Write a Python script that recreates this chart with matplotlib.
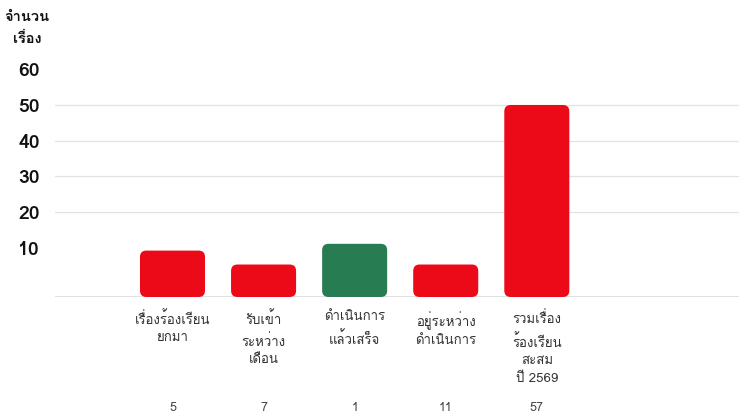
import matplotlib
matplotlib.use('Agg')
import matplotlib.pyplot as plt
from matplotlib import font_manager
from matplotlib.patches import FancyBboxPatch
from matplotlib.ft2font import FT2Font

categories = ['เรื่องร้องเรียน\nยกมา', 'รับเข้า\nระหว่าง\nเดือน', 'ดำเนินการ\nแล้วเสร็จ',
              'อยู่ระหว่าง\nดำเนินการ', 'รวมเรื่อง\nร้องเรียน\nสะสม\nปี 2569']
bar_values = [9.2, 5.3, 11.1, 5.3, 50]
counts = ['5', '7', '1', '11', '57']
bar_colors = ['#ED0A18', '#ED0A18', '#277C52', '#ED0A18', '#ED0A18']
y_ticks = [10, 20, 30, 40, 50, 60]
grid_ticks = [20, 30, 40, 50]


def find_thai_font():
    # pick any installed family that has Thai glyphs
    for f in font_manager.fontManager.ttflist:
        try:
            ft = FT2Font(f.fname)
            cmap = ft.get_charmap()
            if ord('จ') in cmap and ord('เ') in cmap:
                return f.name
        except Exception:
            pass
    return None


thai = find_thai_font()
families = ([thai] if thai else []) + ['DejaVu Sans']
plt.rcParams['font.family'] = families

fig = plt.figure(figsize=(7.39, 4.16), dpi=100)
ax = fig.add_axes([55 / 739, (416 - 297) / 416, 1 - 55 / 739, (297 - 60) / 416])
ymin, ymax = -3.8, 62.6
ax.set_xlim(-1.29, 6.22)
ax.set_ylim(ymin, ymax)

for g in grid_ticks:
    ax.axhline(g, color='#e2e2e2', lw=0.9, zorder=0)
ax.axhline(ymin, color='#dcdcdc', lw=1.2, zorder=0)

aspect = (91 / 3.57)
for i, (v, c) in enumerate(zip(bar_values, bar_colors)):
    w = 0.714
    p = FancyBboxPatch((i - w / 2, ymin), w, v - ymin,
                       boxstyle='round,pad=0,rounding_size=0.07',
                       mutation_aspect=aspect, fc=c, ec='none', zorder=2)
    ax.add_patch(p)

ax.set_yticks(y_ticks)
ax.set_yticklabels([str(t) for t in y_ticks], fontsize=14, fontweight='bold', color='#111111')
ax.tick_params(axis='y', length=0, pad=11)
ax.set_xticks([])
for s in ax.spines.values():
    s.set_visible(False)

for i, (lab, n) in enumerate(zip(categories, counts)):
    ax.annotate(lab, (i, ymin), xytext=(0, -10), textcoords='offset points',
                ha='center', va='top', fontsize=9.5, color='#333333', linespacing=1.6)
    ax.annotate(n, (i, ymin), xytext=(0, -80), textcoords='offset points',
                ha='center', va='center', fontsize=9, color='#444444')

fig.text(27 / 739, 1 - 17 / 416, 'จำนวน', ha='center', va='center',
         fontsize=10.5, fontweight='bold', color='#111111')
fig.text(27 / 739, 1 - 39 / 416, 'เรื่อง', ha='center', va='center',
         fontsize=10.5, fontweight='bold', color='#111111')

fig.savefig('out.png', dpi=100)
